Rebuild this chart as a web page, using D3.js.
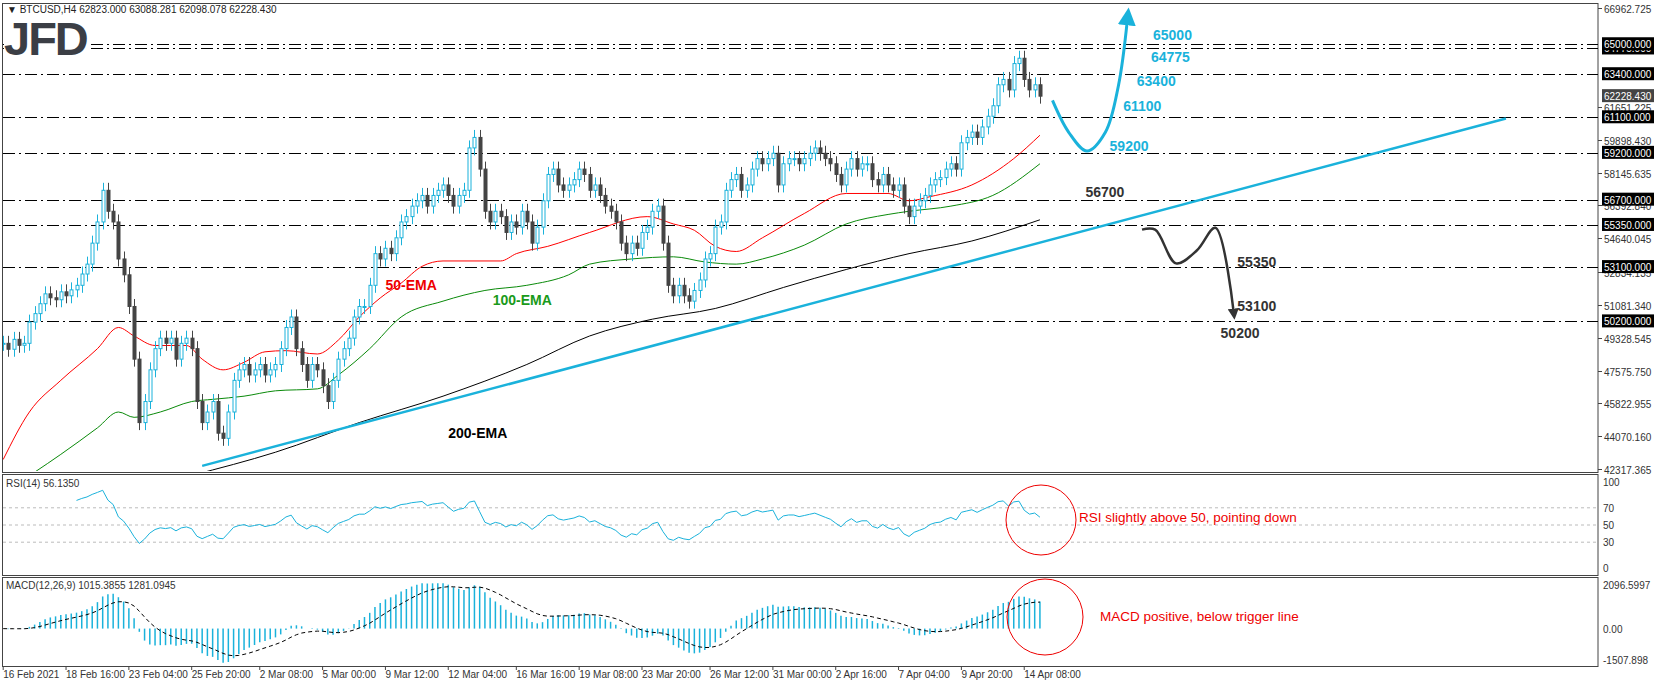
<!DOCTYPE html>
<html><head><meta charset="utf-8">
<script src="https://cdn.jsdelivr.net/npm/d3@7"></script>
<style>body{margin:0;background:#fff}text{font-family:"Liberation Sans","DejaVu Sans",sans-serif}</style>
</head><body><svg id="c" width="1655" height="687"></svg>
<script>
const closes=[49029,48712,49241,48924,49029,50161,50615,51144,51672,51461,
51355,51778,51567,51884,52127,52730,53258,54379,55510,57201,
56081,55510,53533,52687,50996,48184,44795,45921,47613,48744,
49304,49029,49304,48184,49029,49304,48744,45921,44795,45361,
45921,44230,43955,45361,47052,47613,47898,47338,47613,47898,
47338,47613,47898,48744,49875,50435,48744,47898,47052,47898,
47613,46767,45921,47052,48184,48744,49304,50435,50996,50996,
52127,53818,53533,54104,53818,54664,55510,55795,56356,56641,
56927,56356,56927,57201,57487,56927,56356,56927,57201,59464,
60024,58333,56081,55510,56081,55795,54950,55510,55235,56081,
55510,54379,55235,56641,58047,58333,57487,57201,57487,57772,
58333,58047,57201,57487,56927,56356,56081,55510,54379,53818,
54379,54104,54950,55235,56081,56356,54379,52127,51567,52127,
51567,51281,51852,52412,53533,53818,55235,55510,57201,57772,
58047,57201,57487,58333,58893,58618,58893,59179,57487,58618,
58893,58893,58618,58893,59179,59464,59179,58893,58618,58047,
57487,58333,58893,58333,58618,58618,57772,57487,58047,57487,
57201,57487,56356,55795,56356,56641,56927,57487,57772,57878,
58333,58618,58333,59739,60024,60310,60024,60585,61155,61716,
62836,63122,62562,63968,64253,63122,62562,62836,62228];
const ema50=[[0,42824],[5,45361],[11,47052],[18,48744],[22,49875],[25,49421],[29,48913],[32,48913],[35,48913],[38,48184],[42,47613],[46,48015],[50,48575],[54,48638],[60,48459],[64,49199],[68,50435],[72,51450],[76,52243],[80,53141],[84,53427],[95,53427],[98,53818],[104,54207],[112,54950],[123,55795],[128,55404],[132,55066],[136,54207],[140,53933],[145,54664],[153,55963],[161,57031],[169,57031],[173,56641],[177,56861],[185,57487],[193,58893],[198,60142]];
const ema100=[[6,42147],[11,43098],[18,44515],[22,45361],[25,45076],[30,45361],[36,45921],[40,46037],[46,46207],[52,46492],[60,46597],[64,47338],[70,48744],[76,50435],[84,51281],[92,51852],[100,52127],[108,52687],[112,53258],[120,53533],[128,53649],[134,53374],[140,53258],[145,53533],[153,54272],[161,55404],[169,55911],[173,56081],[181,56356],[189,56927],[198,58618]];
const ema200=[[36,41978],[52,43214],[68,44795],[84,46207],[100,47898],[112,49421],[124,50319],[136,50890],[149,52011],[161,52972],[173,53818],[185,54494],[198,55626]];
const levels=[64775,65000,63400,61100,59200,56700,55350,53100,50200];
const priceTicks=[66962.725,61651.225,59898.430,58145.635,56392.840,54640.045,52834.135,51081.340,49328.545,47575.750,45822.955,44070.160,42317.365];
const dateLabels=["16 Feb 2021","18 Feb 16:00","23 Feb 04:00","25 Feb 20:00","2 Mar 08:00","5 Mar 00:00","9 Mar 12:00","12 Mar 04:00","16 Mar 16:00","19 Mar 08:00","23 Mar 20:00","26 Mar 12:00","31 Mar 00:00","2 Apr 16:00","7 Apr 04:00","9 Apr 20:00","14 Apr 08:00"];
const dateIdx=[0,12,24,36,49,61,73,85,98,110,122,135,147,159,171,183,195];
const trend=[[38,42485],[287,61039]];
const upPath=[[200.4,62000],[203.5,60300],[207,59300],[210.5,60300],[213,62800],[214.7,66300]];
const downPath=[[217.5,55100],[220,55100],[224,53300],[228,54000],[231.5,55200],[235,50700]];

const svg=d3.select("#c");
const W=1598, CY="#1ab2db";
const x=d3.scaleLinear().domain([0,300]).range([3.2,1574]);
const y=d3.scaleLinear().domain([42317.365,66962.725]).range([469,7.5]);
const yR=d3.scaleLinear().domain([0,100]).range([568,482]);
const yM=d3.scaleLinear().domain([-1507.898,2096.5997]).range([660,585]);

svg.append("defs").append("clipPath").attr("id","cp").append("rect").attr("x",3).attr("y",4).attr("width",W-3).attr("height",467);

[[3,472],[474,575],[577,666]].forEach(([a,b])=>svg.append("rect").attr("x",2.5).attr("y",a+.5).attr("width",W-2.5).attr("height",b-a).attr("fill","none").attr("stroke","#444"));

svg.append("text").attr("x",7).attr("y",13).attr("font-size",10).attr("fill","#222").text("\u25BC BTCUSD,H4  62823.000 63088.281 62098.078 62228.430");

const M=svg.append("g").attr("clip-path","url(#cp)");
levels.forEach(v=>M.append("line").attr("x1",3).attr("x2",W).attr("y1",Math.round(y(v))+.5).attr("y2",Math.round(y(v))+.5).attr("stroke","#000").attr("stroke-dasharray","12,4,2,4"));
svg.append("rect").attr("x",4).attr("y",20).attr("width",84).attr("height",36).attr("fill","#fff");
svg.append("text").attr("x",4).attr("y",55).attr("font-size",47).attr("font-weight","bold").attr("fill","#3b3e45").attr("letter-spacing",-2).text("JFD");

const ln=d3.line().x(d=>x(d[0])).y(d=>y(d[1])).curve(d3.curveMonotoneX);
M.append("path").attr("d",ln(ema200)).attr("fill","none").attr("stroke","#000").attr("stroke-width",1);
M.append("path").attr("d",ln(ema100)).attr("fill","none").attr("stroke","#0a8a0a").attr("stroke-width",1);
M.append("path").attr("d",ln(ema50)).attr("fill","none").attr("stroke","#f00").attr("stroke-width",1);
M.append("path").attr("d",d3.line().x(d=>x(d[0])).y(d=>y(d[1]))(trend)).attr("stroke",CY).attr("stroke-width",2.5).attr("fill","none");

const g=M.append("g");
closes.forEach((c,i)=>{
  const o=i?closes[i-1]:c;
  const hi=Math.max(o,c)+400, lo=Math.min(o,c)-400;
  const up=c>=o, xc=Math.round(x(i))+.5;
  g.append("line").attr("x1",xc).attr("x2",xc).attr("y1",y(hi)).attr("y2",y(lo)).attr("stroke",up?CY:"#444");
  const t=y(Math.max(o,c)), b=y(Math.min(o,c));
  g.append("rect").attr("x",xc-1.5).attr("y",t).attr("width",3).attr("height",Math.max(1,b-t)).attr("fill",up?"#fff":"#444").attr("stroke",up?CY:"#444");
});

const defs=svg.select("defs");
[["ab",CY,6],["ak","#333",4.5]].forEach(([id,c,s])=>defs.append("marker").attr("id",id).attr("viewBox","0 0 10 10").attr("refX",3).attr("refY",5).attr("markerWidth",s).attr("markerHeight",s).attr("orient","auto").append("path").attr("d","M0,0L10,5L0,10z").attr("fill",c));
const cl=d3.line().x(d=>x(d[0])).y(d=>y(d[1])).curve(d3.curveCatmullRom);
svg.append("path").attr("d",cl(upPath)).attr("fill","none").attr("stroke",CY).attr("stroke-width",3).attr("marker-end","url(#ab)");
svg.append("path").attr("d",cl(downPath)).attr("fill","none").attr("stroke","#333").attr("stroke-width",2.5).attr("marker-end","url(#ak)");

const lab=(t,i,p,c)=>svg.append("text").attr("x",x(i)).attr("y",y(p)).attr("font-size",14).attr("font-weight","bold").attr("fill",c).text(t);
lab("65000",219.6,65227,CY);lab("64775",219.2,64052,CY);lab("63400",216.5,62771,CY);lab("61100",213.9,61436,CY);lab("59200",211.3,59292,CY);
lab("56700",206.7,56867,"#333");lab("55350",235.7,53088,"#333");lab("53100",235.7,50775,"#333");lab("50200",232.5,49309,"#333");
lab("50-EMA",73,51903,"#e00");lab("100-EMA",93.5,51057,"#1a9a1a");lab("200-EMA",85,43951,"#000");

const ra=svg.append("g").attr("font-size",10).attr("fill","#333");
priceTicks.forEach(v=>{const yy=Math.round(y(v))+.5;ra.append("line").attr("x1",W).attr("x2",W+4).attr("y1",yy).attr("y2",yy).attr("stroke","#444");ra.append("text").attr("x",1604).attr("y",yy+4).text(v.toFixed(3));});
const box=(v,bg)=>{const yy=y(v);ra.append("rect").attr("x",1602).attr("y",yy-7).attr("width",52).attr("height",13).attr("fill",bg);ra.append("text").attr("x",1604).attr("y",yy+4).attr("fill","#fff").text(v.toFixed(3));};
levels.forEach(v=>box(v,"#000"));box(62228.43,"#444");

const rsi=[];let ag=0,al=0;const N=14;
closes.forEach((c,i)=>{if(!i){rsi.push(null);return;}const d=c-closes[i-1],gn=Math.max(d,0),ls=Math.max(-d,0);
 if(i<=N){ag+=gn/N;al+=ls/N;}else{ag=(ag*(N-1)+gn)/N;al=(al*(N-1)+ls)/N;}
 rsi.push(i<N?null:100-100/(1+ag/(al||1e-9)));});
[70,50,30].forEach(v=>svg.append("line").attr("x1",3).attr("x2",W).attr("y1",yR(v)).attr("y2",yR(v)).attr("stroke","#bbb").attr("stroke-dasharray","3,3"));
svg.append("path").attr("d",d3.line().defined(d=>d!=null).x((d,i)=>x(i)).y(d=>yR(d))(rsi)).attr("fill","none").attr("stroke",CY).attr("stroke-width",1);
svg.append("text").attr("x",6).attr("y",487).attr("font-size",10).attr("fill","#333").text("RSI(14) 56.1350");
[100,70,50,30,0].forEach(v=>svg.append("text").attr("x",1603).attr("y",yR(v)+4).attr("font-size",10).attr("fill","#333").text(v));

const ema=(arr,n)=>{const k=2/(n+1);let e=arr[0];return arr.map(v=>e=v*k+e*(1-k));};
const e12=ema(closes,12),e26=ema(closes,26);const macd=e12.map((v,i)=>v-e26[i]);const sig=ema(macd,9);
svg.append("g").selectAll("line").data(macd).join("line").attr("x1",(d,i)=>x(i)).attr("x2",(d,i)=>x(i)).attr("y1",yM(0)).attr("y2",d=>yM(d)).attr("stroke",CY).attr("stroke-width",1.5);
svg.append("path").attr("d",d3.line().x((d,i)=>x(i)).y(d=>yM(d))(sig)).attr("fill","none").attr("stroke","#000").attr("stroke-dasharray","4,3");
svg.append("text").attr("x",6).attr("y",589).attr("font-size",10).attr("fill","#333").text("MACD(12,26,9) 1015.3855 1281.0945");
[2096.5997,0,-1507.898].forEach(v=>svg.append("text").attr("x",1603).attr("y",yM(v)+4).attr("font-size",10).attr("fill","#333").text(v===0?"0.00":String(v)));

svg.append("circle").attr("cx",1041).attr("cy",520).attr("r",35).attr("fill","none").attr("stroke","#e00");
svg.append("text").attr("x",1079).attr("y",522).attr("font-size",13.5).attr("fill","#e00").text("RSI slightly above 50, pointing down");
svg.append("circle").attr("cx",1045).attr("cy",617).attr("r",38).attr("fill","none").attr("stroke","#e00");
svg.append("text").attr("x",1100).attr("y",621).attr("font-size",13.5).attr("fill","#e00").text("MACD positive, below trigger line");

dateIdx.forEach((d,i)=>{svg.append("line").attr("x1",x(d)).attr("x2",x(d)).attr("y1",666).attr("y2",670).attr("stroke","#444");
 svg.append("text").attr("x",x(d)).attr("y",678).attr("font-size",10).attr("fill","#333").text(dateLabels[i]);});
</script></body></html>
